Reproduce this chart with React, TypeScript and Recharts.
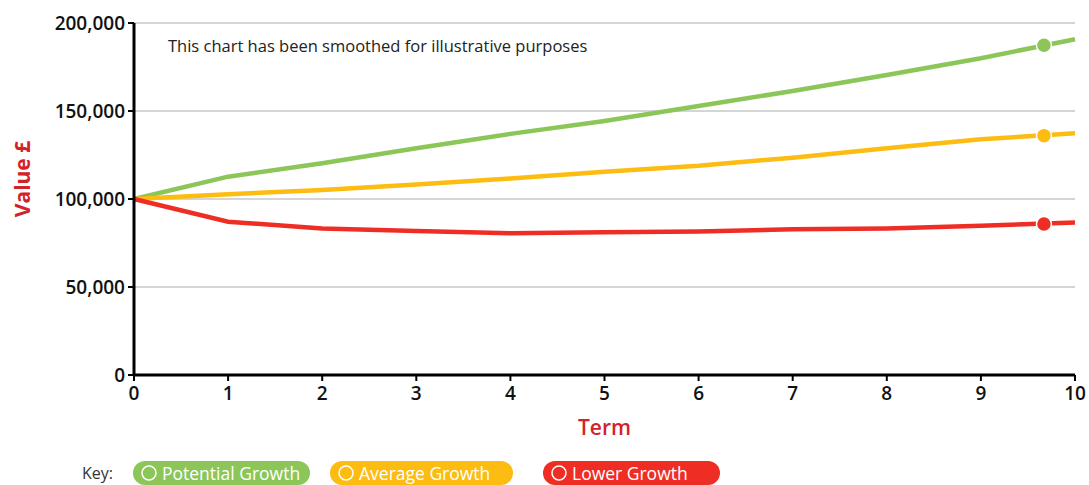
import React from 'react';
import { LineChart, Line, XAxis, YAxis, CartesianGrid, ReferenceDot, Label } from 'recharts';

const terms = [0, 1, 2, 3, 4, 5, 6, 7, 8, 9, 10];
const potentialGrowth = [100000, 112700, 120300, 128800, 137000, 144300, 152800, 161400, 170500, 180000, 190800];
const averageGrowth = [100000, 102700, 105100, 108300, 111700, 115500, 118900, 123500, 128800, 133900, 137300];
const lowerGrowth = [100000, 87100, 83300, 81800, 80500, 81100, 81600, 82800, 83300, 84800, 86700];
const markerTerm = 9.67;
const markerValues = [187300, 136000, 85800];
const yTicks = [0, 50000, 100000, 150000, 200000];
const xTicks = [0, 1, 2, 3, 4, 5, 6, 7, 8, 9, 10];
const seriesNames = ['Potential Growth', 'Average Growth', 'Lower Growth'];
const seriesColors = ['#8CC659', '#FCBC12', '#EE2E24'];
const labelRed = '#D3222A';
const FONT = '"Open Sans", "Noto Sans", sans-serif';

const data = terms.map((t, i) => ({
  term: t,
  potential: potentialGrowth[i],
  average: averageGrowth[i],
  lower: lowerGrowth[i],
}));

const fmt = (v: number) => v.toLocaleString('en-GB');

const YLabel = (props: any) => {
  const vb = props.viewBox || { x: 0, y: 0, width: 0, height: 0 };
  const cx = 22;
  const cy = vb.y + vb.height / 2 - 20;
  return (
    <text
      x={cx}
      y={cy}
      transform={`rotate(-90, ${cx}, ${cy})`}
      textAnchor="middle"
      dominantBaseline="central"
      fill={labelRed}
      fontFamily={FONT}
      fontWeight={700}
      fontSize={21}
    >
      Value £
    </text>
  );
};

const XLabel = (props: any) => {
  const vb = props.viewBox || { x: 0, y: 0, width: 0, height: 0 };
  return (
    <text
      x={vb.x + vb.width / 2}
      y={427}
      textAnchor="middle"
      dominantBaseline="central"
      fill={labelRed}
      fontFamily={FONT}
      fontWeight={600}
      fontSize={21}
    >
      Term
    </text>
  );
};

const Pill = ({ left, width, color, text }: { left: number; width: number; color: string; text: string }) => (
  <div
    style={{
      position: 'absolute',
      left,
      top: 461,
      width,
      height: 24,
      borderRadius: 12,
      background: color,
      color: '#fff',
      fontFamily: FONT,
      fontSize: 17.5,
      lineHeight: '20px',
      whiteSpace: 'nowrap',
      boxSizing: 'border-box',
      paddingLeft: 7,
      display: 'flex',
      alignItems: 'center',
    }}
  >
    <svg width={18} height={18} style={{ marginRight: 4, flex: 'none' }}>
      <circle cx={9} cy={9} r={7} fill="none" stroke="#fff" strokeWidth={1.5} />
    </svg>
    {text}
  </div>
);

export default function App() {
  const keys = ['potential', 'average', 'lower'];
  return (
    <div style={{ position: 'absolute', left: 0, top: 0, width: 1089, height: 485, overflow: 'hidden', background: '#fff' }}>
      <LineChart
        width={1089}
        height={450}
        data={data}
        margin={{ top: 23, right: 14, bottom: 15, left: 0 }}
      >
        <CartesianGrid vertical={false} stroke="#ababab" strokeWidth={1} />
        <XAxis
          dataKey="term"
          type="number"
          domain={[0, 10]}
          ticks={xTicks}
          height={60}
          axisLine={{ stroke: '#000', strokeWidth: 3 }}
          tickLine={{ stroke: '#000', strokeWidth: 2 }}
          tickSize={6}
          tick={{ fill: '#111', fontFamily: FONT, fontWeight: 600, fontSize: 19 }}
          tickMargin={6}
        >
          <Label content={<XLabel />} />
        </XAxis>
        <YAxis
          type="number"
          domain={[0, 200000]}
          ticks={yTicks}
          width={134}
          tickFormatter={fmt}
          axisLine={{ stroke: '#000', strokeWidth: 3 }}
          tickLine={{ stroke: '#000', strokeWidth: 2 }}
          tickSize={6}
          tick={{ fill: '#111', fontFamily: FONT, fontWeight: 600, fontSize: 19 }}
          tickMargin={3}
        >
          <Label content={<YLabel />} />
        </YAxis>
        {keys.map((k, i) => (
          <Line
            key={k}
            type="linear"
            dataKey={k}
            name={seriesNames[i]}
            stroke={seriesColors[i]}
            strokeWidth={4.5}
            dot={false}
            activeDot={false}
            isAnimationActive={false}
          />
        ))}
        {markerValues.map((v, i) => (
          <ReferenceDot
            key={i}
            x={markerTerm}
            y={v}
            r={7.5}
            fill={seriesColors[i]}
            stroke="#fff"
            strokeWidth={1.5}
          />
        ))}
      </LineChart>
      <div
        style={{
          position: 'absolute',
          left: 168,
          top: 34,
          fontFamily: FONT,
          fontSize: 16.5,
          color: '#222',
          whiteSpace: 'nowrap',
        }}
      >
        This chart has been smoothed for illustrative purposes
      </div>
      <div
        style={{
          position: 'absolute',
          left: 82,
          top: 464,
          fontFamily: FONT,
          fontSize: 16,
          lineHeight: '18px',
          color: '#333',
        }}
      >
        Key:
      </div>
      <Pill left={133} width={177} color={seriesColors[0]} text={seriesNames[0]} />
      <Pill left={330} width={183} color={seriesColors[1]} text={seriesNames[1]} />
      <Pill left={543} width={177} color={seriesColors[2]} text={seriesNames[2]} />
    </div>
  );
}
